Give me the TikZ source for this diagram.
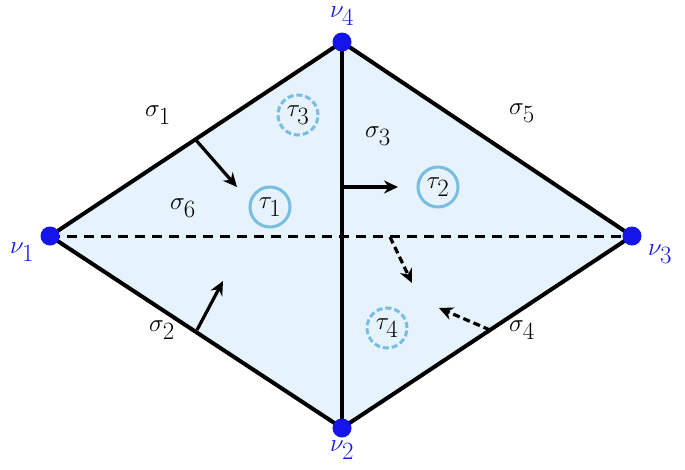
\documentclass[tikz,border=0pt]{standalone}
\usetikzlibrary{arrows.meta}
\definecolor{vblue}{RGB}{20,20,235}
\definecolor{cblue}{RGB}{120,190,225}
\definecolor{fillb}{RGB}{230,242,252}
\tikzset{
 edge/.style={line width=4pt},
 dedge/.style={line width=3pt,dash pattern=on 10pt off 7pt},
 arr/.style={line width=3.2pt,-{Stealth[length=14pt,width=13pt]}},
 darr/.style={arr,dash pattern=on 7pt off 4pt},
 vert/.style={circle,fill=vblue,inner sep=0pt,minimum size=19pt},
 lab/.style={font=\fontsize{36}{40}\selectfont},
 vlab/.style={lab,text=vblue},
 tau/.style={lab,circle,draw=cblue,line width=3pt,inner sep=0pt,minimum size=40pt},
 dtau/.style={tau,dash pattern=on 6pt off 3pt}
}
\begin{document}
\begin{tikzpicture}[x=1pt,y=-1pt]
\useasboundingbox (0,0) rectangle (685,469);
\coordinate (v1) at (50,236);
\coordinate (v4) at (342,42);
\coordinate (v3) at (632,236);
\coordinate (v2) at (342,428);
\fill[fillb] (v1)--(v4)--(v3)--(v2)--cycle;
\draw[dedge] (v1)--(v3);
\draw[edge,line join=round] (v1)--(v4)--(v3)--(v2)--cycle;
\draw[edge] (v4)--(v2);
\node[vert] (n1) at (v1) {};
\node[vert] (n2) at (v2) {};
\node[vert] (n3) at (v3) {};
\node[vert] (n4) at (v4) {};
\node[vlab] at (22,252) {$\nu_1$};
\node[vlab] at (342,450) {$\nu_2$};
\node[vlab] at (660,254) {$\nu_3$};
\node[vlab] at (342,16) {$\nu_4$};
\node[lab] at (158,115) {$\sigma_1$};
\node[lab] at (162,330) {$\sigma_2$};
\node[lab] at (378,136) {$\sigma_3$};
\node[lab] at (522,330) {$\sigma_4$};
\node[lab] at (522,113) {$\sigma_5$};
\node[lab] at (183,208) {$\sigma_6$};
\node[tau] (t1) at (270,207) {$\tau_1$};
\node[tau] (t2) at (438,187) {$\tau_2$};
\node[dtau] (t3) at (298,115) {$\tau_3$};
\node[dtau] (t4) at (387,328) {$\tau_4$};
\coordinate (a1) at (195,139); \coordinate (b1) at (237,187);
\coordinate (a2) at (197,330); \coordinate (b2) at (223,281);
\coordinate (a3) at (342,187); \coordinate (b3) at (398,187);
\coordinate (a4) at (390,237); \coordinate (b4) at (412,283);
\coordinate (a5) at (490,330); \coordinate (b5) at (439,308);
\draw[arr] (a1)--(b1);
\draw[arr] (a2)--(b2);
\draw[arr] (a3)--(b3);
\draw[darr] (a4)--(b4);
\draw[darr] (a5)--(b5);
\end{tikzpicture}
\end{document}
